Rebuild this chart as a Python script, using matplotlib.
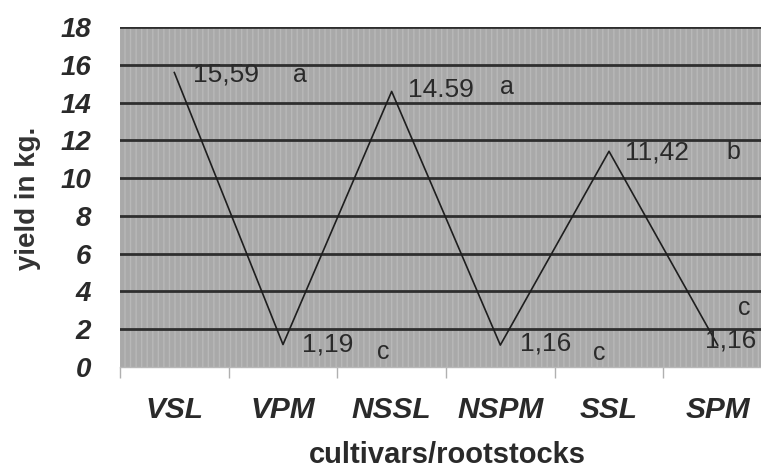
import matplotlib
matplotlib.use("Agg")
import matplotlib.pyplot as plt
from matplotlib.patches import Rectangle

categories = ["VSL", "VPM", "NSSL", "NSPM", "SSL", "SPM"]
yields = [15.59, 1.19, 14.59, 1.16, 11.42, 1.16]
value_labels = ["15,59", "1,19", "14.59", "1,16", "11,42", "1,16"]
letters = ["a", "c", "a", "c", "b", "c"]
y_ticks = [0, 2, 4, 6, 8, 10, 12, 14, 16, 18]

W, H = 761, 473
fig = plt.figure(figsize=(W / 100, H / 100), dpi=100)
fig.patch.set_facecolor("white")
ax = fig.add_axes([120 / W, 106 / H, 652 / W, 340 / H])
ax.set_facecolor("#a9a9a9")

x = list(range(len(categories)))
ax.set_xlim(-0.5, len(categories) - 0.5)
ax.set_ylim(0, 18)

# texture
ax.add_patch(Rectangle((0, 0), 1, 1, transform=ax.transAxes, facecolor="none",
                       edgecolor="#b8b8b8", hatch="|||", linewidth=0, zorder=0.5))
for t in y_ticks[1:]:
    ax.axhline(t, color="#2e2e2e", linewidth=2.0, zorder=1)

ax.plot(x, yields, color="#1e1e1e", linewidth=1.2, zorder=3)

text_color = "#2a2a2a"
num_off = [(19, -2), (19, 0), (16, 1), (20, 2), (16, -1), (-13, 5)]
let_off = [(119, -2), (94, -7), (108, 4), (93, -8), (117, -1), (20, 37)]
for i in range(len(categories)):
    ax.annotate(value_labels[i], (x[i], yields[i]), xytext=num_off[i],
                textcoords="offset pixels", ha="left", va="center",
                fontsize=19, family="Liberation Sans", color=text_color, zorder=4)
    ax.annotate(letters[i], (x[i], yields[i]), xytext=let_off[i],
                textcoords="offset pixels", ha="left", va="center",
                fontsize=18, family="Liberation Sans", color=text_color, zorder=4)

ax.set_yticks(y_ticks)
ax.set_yticklabels([str(v) for v in y_ticks], fontsize=20, family="Liberation Sans",
                   fontweight="bold", fontstyle="italic", color=text_color)
ax.tick_params(axis="y", length=0, pad=21)

ax.set_xticks(x)
ax.set_xticklabels(categories, fontsize=21.5, family="Liberation Sans",
                   fontweight="bold", fontstyle="italic", color=text_color)
ax.set_xticks([i - 0.5 for i in range(len(categories) + 1)], minor=True)
ax.tick_params(axis="x", which="major", length=0, pad=21)
ax.tick_params(axis="x", which="minor", length=8, color="#b0b0b0", width=1, direction="out")

for s in ["top", "right", "left"]:
    ax.spines[s].set_visible(False)
ax.spines["bottom"].set_color("#b8b8b8")
ax.spines["bottom"].set_linewidth(1)

fig.text(447 / W, 1 - 455 / H, "cultivars/rootstocks", ha="center", va="center",
         fontsize=21, family="Liberation Sans", fontweight="bold", color=text_color)
fig.text(28 / W, 1 - 198 / H, "yield in kg.", ha="center", va="center", rotation=90,
         fontsize=20, family="Liberation Sans", fontweight="bold", color="#333333")

fig.savefig("out.png", dpi=100)
